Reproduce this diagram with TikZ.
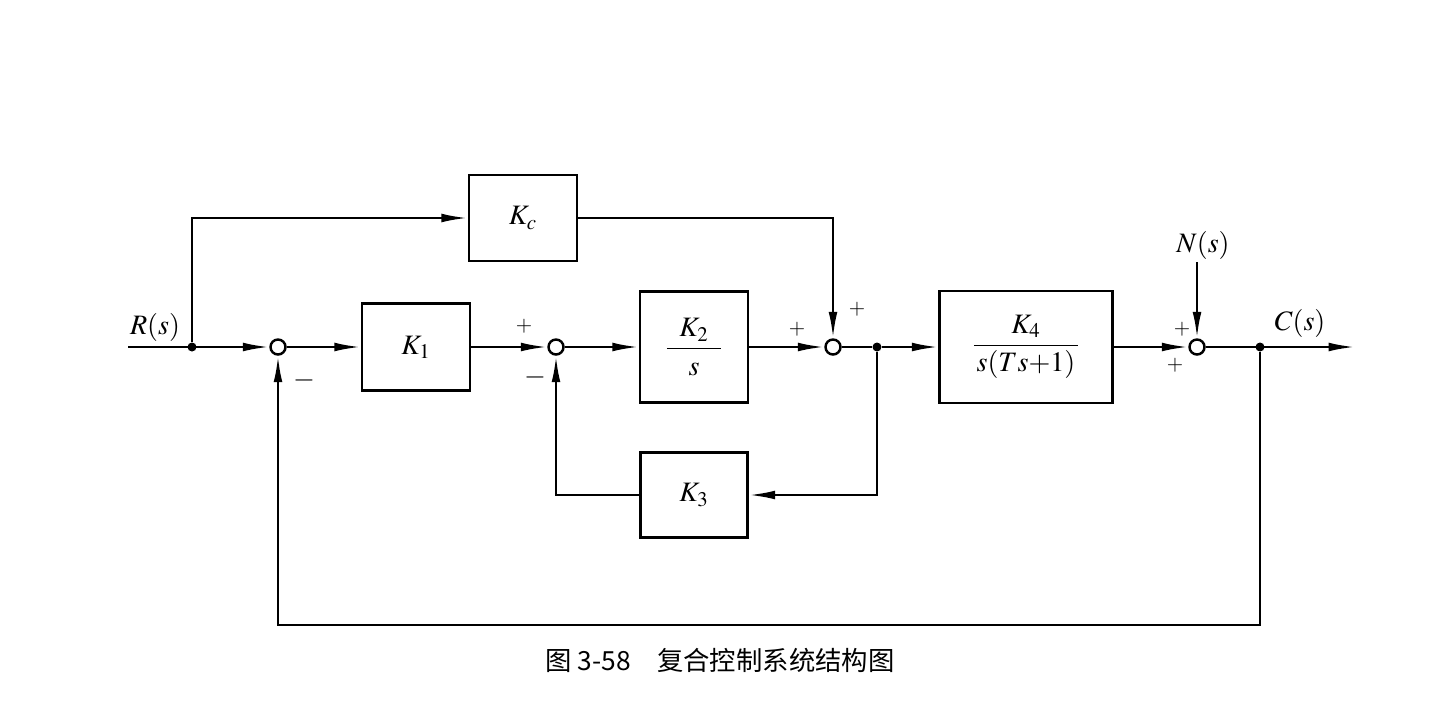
\documentclass[tikz,border=0pt]{standalone}
\usepackage{amsmath}
\usepackage{mathptmx}
\usepackage{fontspec}
\setmainfont{Liberation Serif}
\newfontfamily\cjk{Noto Sans CJK SC}
\usetikzlibrary{arrows.meta}

\tikzset{
  blk/.style={draw, line width=1.4pt, minimum width=2.16cm, minimum height=1.74cm, inner sep=0pt, font=\fontsize{16}{19}\selectfont},
  sumpt/.style={draw, circle, line width=1.4pt, minimum size=0.3cm, inner sep=0pt, fill=white},
  dotpt/.style={circle, fill, inner sep=0pt, minimum size=0.18cm},
  sig/.style={line width=1.4pt, -{Latex[length=15pt,width=5pt]}},
  wire/.style={line width=1.4pt},
  lbl/.style={font=\fontsize{16}{19}\selectfont},
  sgn/.style={font=\fontsize{12}{14}\selectfont},
  neg/.style={font=\fontsize{16}{19}\selectfont},
}

\begin{document}
\begin{tikzpicture}[x=0.02cm, y=-0.02cm]
  \useasboundingbox (0,0) rectangle (1450,700);

  % forward path
  \coordinate (in) at (128,347);
  \node[dotpt] (dotR) at (192,347) {};
  \node[sumpt] (sum1) at (278,347) {};
  \node[blk] (K1) at (416,347) {$K_1$};
  \node[sumpt] (sum2) at (556,347) {};
  \node[blk, minimum height=2.22cm] (K2) at (694,347) {$\dfrac{\;\;K_2\;\;}{s}$};
  \node[sumpt] (sum3) at (833,347) {};
  \node[dotpt] (dotB) at (877,347) {};
  \node[blk, minimum width=3.46cm, minimum height=2.24cm] (K4) at (1026,347) {$\dfrac{\quad\;\, K_4\quad\;\,}{s(Ts{+}1)}$};
  \node[sumpt] (sum4) at (1197,347) {};
  \node[dotpt] (dotC) at (1260,347) {};
  \coordinate (out) at (1355,347);

  % side blocks
  \node[blk, minimum height=1.72cm] (Kc) at (523,218) {$K_c$};
  \node[blk, minimum width=2.14cm, minimum height=1.70cm] (K3) at (694,495) {$K_3$};
  \coordinate (nIn) at (1197,262);

  % labels
  \node[lbl] (Rlab) at (155,327) {$R(s)$};
  \node[lbl] (Clab) at (1300,323) {$C(s)$};
  \node[lbl] (Nlab) at (1203,245) {$N(s)$};

  % signs
  \node[neg] (s1m) at (304,380) {$\boldsymbol{-}$};
  \node[sgn] (s2p) at (524,326) {$+$};
  \node[neg] (s2m) at (535,377) {$\boldsymbol{-}$};
  \node[sgn] (s3a) at (797,329) {$+$};
  \node[sgn] (s3b) at (857,309) {$+$};
  \node[sgn] (s4a) at (1182,329) {$+$};
  \node[sgn] (s4b) at (1175,365) {$+$};

  % connections
  \draw[sig] (in) -- (sum1);
  \draw[sig] (sum1) -- (K1);
  \draw[sig] (K1) -- (sum2);
  \draw[sig] (sum2) -- (K2);
  \draw[sig] (K2) -- (sum3);
  \draw[wire] (sum3) -- (dotB);
  \draw[sig] (dotB) -- (K4);
  \draw[sig] (K4) -- (sum4);
  \draw[sig] (sum4) -- (out);
  \draw[sig] (dotR) |- (Kc);
  \draw[sig] (Kc) -| (sum3);
  \draw[sig] (dotB) |- (K3);
  \draw[sig] (K3) -| (sum2);
  \draw[sig] (dotC) -- (dotC |- 0,625) -| (sum1);
  \draw[sig] (nIn) -- (sum4);

  \node[font=\cjk\fontsize{15}{18}\selectfont] (cap) at (720,660) {图 3-58\quad 复合控制系统结构图};
\end{tikzpicture}
\end{document}
